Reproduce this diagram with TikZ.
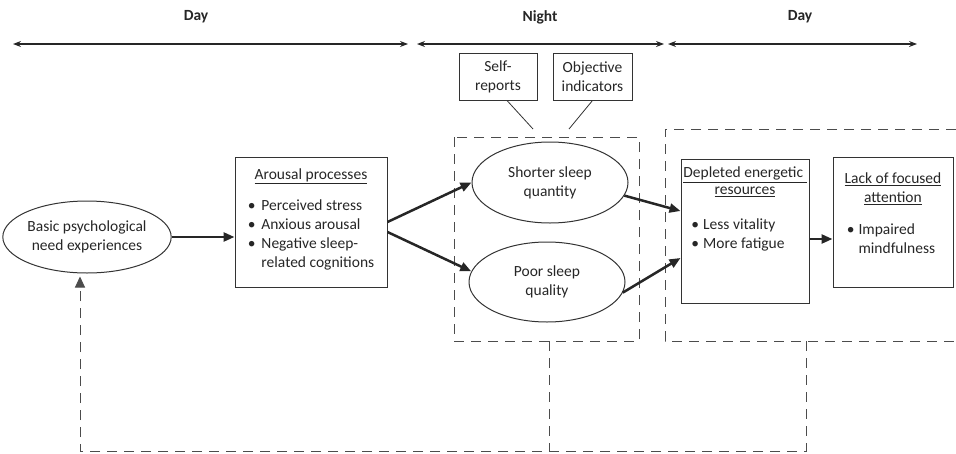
\documentclass[tikz,border=0pt]{standalone}
\usepackage{fontspec}
\setmainfont{Carlito}
\usetikzlibrary{arrows.meta,shapes.geometric}

\begin{document}
\begin{tikzpicture}[x=1pt, y=-1pt, >=Stealth, font=\fontsize{15.5}{19}\selectfont, text=black!85,
  box/.style={draw=black!80, line width=1pt, inner sep=0pt, align=center},
  oval/.style={draw=black!80, line width=1pt, ellipse, inner sep=0pt, align=center},
  flow/.style={-{Triangle[length=11pt,width=9pt]}, draw=black!85, line width=2.5pt},
  timespan/.style={{Stealth[length=8pt,width=6pt]}-{Stealth[length=8pt,width=6pt]}, draw=black!85, line width=1.2pt},
  region/.style={draw=black!70, line width=1pt, dash pattern=on 10pt off 7pt},
  daylabel/.style={font=\fontsize{15.5}{19}\selectfont\bfseries}]
  \useasboundingbox (0,0) rectangle (956,453);
  % a box with its text hung from the top: width, height, text
  \newcommand{\topbox}[3]{\parbox[c][#2][t]{#1}{\centering #3}}
  % ------------------------------------------------------------------ the time line
  \node[daylabel] (day1) at (196,17) {Day};
  \node[daylabel] (night) at (540,17) {Night};
  \node[daylabel] (day2) at (800,17) {Day};
  \coordinate (t0) at (13,44);  \coordinate (t1) at (408,44);
  \coordinate (t2) at (417,44); \coordinate (t3) at (664,44);
  \coordinate (t4) at (668,44); \coordinate (t5) at (917,44);
  \draw[timespan] (t0) -- (t1);
  \draw[timespan] (t2) -- (t3);
  \draw[timespan] (t4) -- (t5);
  % ------------------------------------------------------------------ day: needs and arousal
  \node[oval, minimum width=162, minimum height=72] (basic) at (87,237)
    {Basic psychological\\need experiences};
  \node[box] (arousal) at (311,222) {\topbox{152pt}{130pt}{%
    \vspace{12pt}\underline{Arousal processes}\\[12pt]
    \begin{tabular}[t]{@{}l@{\hspace{6pt}}l@{}}
      \textbullet & Perceived stress\\
      \textbullet & Anxious arousal\\
      \textbullet & Negative sleep-\\
                  & related cognitions
    \end{tabular}}};
  % ------------------------------------------------------------------ night: sleep
  \draw[region] (454,137) rectangle (639,341);
  \node[oval, minimum width=156, minimum height=81] (shorter) at (550,182.5)
    {Shorter sleep\\quantity};
  \node[oval, minimum width=156, minimum height=80] (poor) at (547,282)
    {Poor sleep\\quality};
  \node[box, minimum width=78, minimum height=47] (self) at (498,76.5) {Self-\\reports};
  \node[box, minimum width=79, minimum height=47] (objective) at (592.5,76.5) {Objective\\indicators};
  \coordinate (selfend) at (533,129);
  \coordinate (objend) at (569,129);
  \draw[black!80, line width=0.8pt] ([xshift=9pt]self.south) -- (selfend);
  \draw[black!80, line width=0.8pt] (objective.south) -- (objend);
  % ------------------------------------------------------------------ next day: energy and attention
  \draw[region] (956,129) -- (665,129) -- (665,341) -- (956,341);
  \node[box] (depleted) at (745,231) {\topbox{128pt}{144pt}{%
    \vspace{8pt}\underline{Depleted energetic\ }\\[-2pt]\underline{resources}\\[16pt]
    \begin{tabular}[t]{@{}l@{\hspace{4pt}}l@{}}
      \textbullet & Less vitality\\
      \textbullet & More fatigue
    \end{tabular}\hspace*{14pt}}};
  \node[box] (lack) at (893,222) {\topbox{120pt}{130pt}{%
    \vspace{16pt}\underline{Lack of focused}\\\underline{attention}\\[13pt]
    \begin{tabular}[t]{@{}l@{\hspace{4pt}}l@{}}
      \textbullet & Impaired\\
                  & mindfulness
    \end{tabular}\hspace*{4pt}}};
  % ------------------------------------------------------------------ paths
  \draw[flow] (basic.east) -- (basic.east -| arousal.west);
  \draw[flow] (arousal.east) -- (shorter.west);
  \draw[flow] ([yshift=-10pt]arousal.east) -- (poor.172);
  \draw[flow] (shorter.-10) -- ([yshift=20pt]depleted.west);
  \draw[flow] (poor.-8) -- ([yshift=-27pt]depleted.west);
  \draw[flow] ([yshift=-8pt]depleted.east) coordinate (d2l) -- (d2l -| lack.west);
  % ------------------------------------------------------------------ feedback
  \coordinate (nightfoot) at (549,341);
  \coordinate (dayfoot) at (806,341);
  \coordinate (fbcorner) at (80,451);
  \draw[region] (nightfoot) -- (nightfoot |- fbcorner);
  \draw[region, -{Triangle[length=11pt,width=10pt]}, shorten >=3pt]
    (dayfoot) |- (fbcorner) -- (fbcorner |- basic.south);
\end{tikzpicture}
\end{document}
